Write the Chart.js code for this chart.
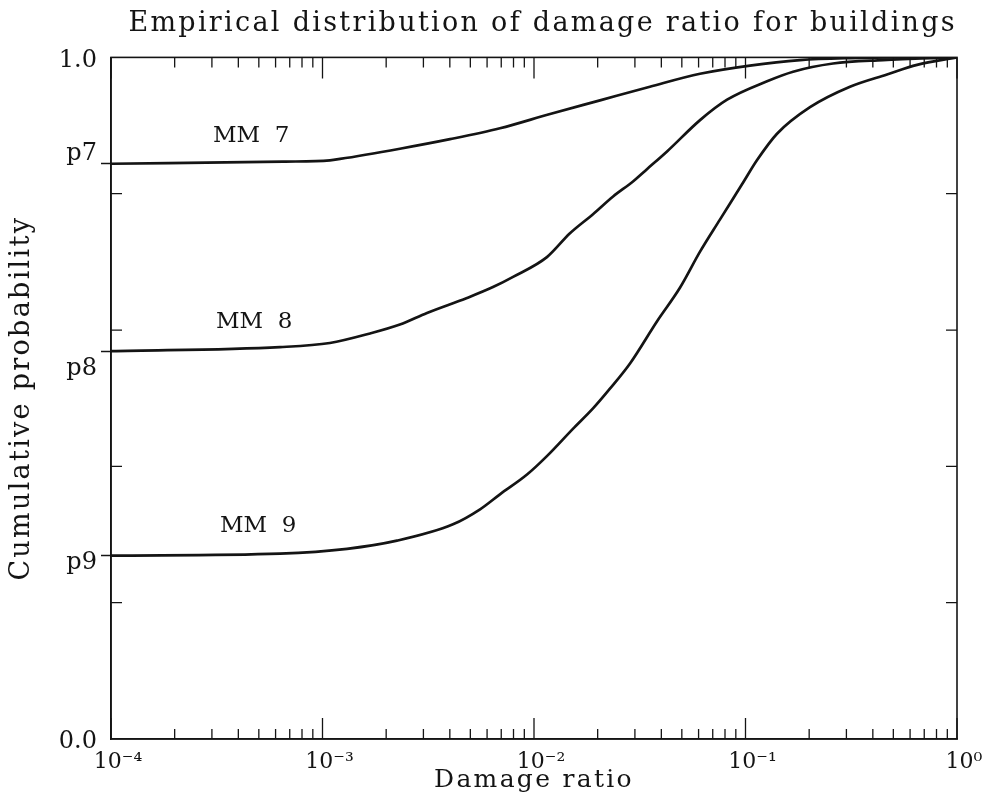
<!DOCTYPE html>
<html>
<head>
<meta charset="utf-8">
<title>Empirical distribution of damage ratio for buildings</title>
<script src="https://cdn.jsdelivr.net/npm/chart.js@4.4.1/dist/chart.umd.min.js"></script>
<style>
  html, body { margin: 0; padding: 0; background: #fff; }
</style>
</head>
<body>
<canvas id="grafico-dano" width="982" height="801"></canvas>
<script>
'use strict';

// Curvas: log10(ratio de daño) y probabilidad acumulada
const mm7LogX = [-4, -3.187, -2.965, -2.917, -2.634, -2.397, -2.161, -1.924, -1.688, -1.452, -1.215, -0.979, -0.742, -0.506, -0.270, 0];
const mm7Prob = [0.844, 0.847, 0.849, 0.851, 0.866, 0.880, 0.896, 0.917, 0.937, 0.957, 0.976, 0.988, 0.996, 0.999, 1.0, 1.0];

const mm8LogX = [-4, -3.201, -2.965, -2.775, -2.634, -2.506, -2.317, -2.194, -2.099, -1.939, -1.830, -1.721, -1.626, -1.532, -1.466, -1.371, -1.215, -1.087, -0.898, -0.775, -0.586, -0.350, -0.113, 0];
const mm8Prob = [0.569, 0.575, 0.581, 0.595, 0.608, 0.625, 0.647, 0.663, 0.678, 0.707, 0.742, 0.770, 0.796, 0.818, 0.836, 0.862, 0.908, 0.938, 0.965, 0.979, 0.991, 0.996, 0.999, 1.0];

const mm9LogX = [-4, -3.201, -2.884, -2.648, -2.383, -2.255, -2.161, -2.033, -1.939, -1.816, -1.721, -1.641, -1.546, -1.418, -1.310, -1.215, -1.121, -1.012, -0.946, -0.851, -0.695, -0.506, -0.331, -0.189, 0];
const mm9Prob = [0.269, 0.272, 0.279, 0.291, 0.315, 0.337, 0.359, 0.388, 0.415, 0.455, 0.485, 0.514, 0.551, 0.613, 0.662, 0.715, 0.762, 0.816, 0.849, 0.888, 0.927, 0.957, 0.975, 0.989, 1.0];

// Etiquetas del eje Y (p7, p8, p9 son los valores iniciales de cada curva)
const yTickValues = [0, 0.269, 0.569, 0.844, 1];
const yTickLabels = ['0.0', 'p9', 'p8', 'p7', '1.0'];
const yMinorTicks = [0.2, 0.4, 0.6, 0.8];

// Eje X: décadas y sus etiquetas
const xDecades = [-4, -3, -2, -1, 0];
const xDecadeLabels = ['10⁻⁴', '10⁻³', '10⁻²', '10⁻¹', '10⁰'];

// Rótulos de las curvas (coordenadas en datos)
const curveNames = ['MM  7', 'MM  8', 'MM  9'];
const curveNameLogX = [-3.518, -3.504, -3.485];
const curveNameProb = [0.885, 0.612, 0.312];

const FONT = "'DejaVu Serif', serif";
const INK = '#141414';

function armarSerie(logX, prob) {
    return logX.map((lx, i) => ({ x: Math.pow(10, lx), y: prob[i] }));
}

/**
 * Los títulos del original van espaciados; las etiquetas de marcas no.
 * Los títulos se dibujan antes de los datos y las etiquetas (ticks.z = 1) después.
 */
const espaciadoPlugin = {
    id: 'espaciado',
    beforeDraw(chart) {
        chart.ctx.letterSpacing = '2.3px';
    },
    afterDatasetsDraw(chart) {
        chart.ctx.letterSpacing = '0px';
    }
};

/**
 * Dibuja el marco completo, las marcas hacia dentro y los rótulos MM.
 */
const marcoPlugin = {
    id: 'marco',
    afterDatasetsDraw(chart) {
        const { ctx, chartArea: a, scales: { x, y } } = chart;
        ctx.save();
        ctx.letterSpacing = '0px';
        ctx.strokeStyle = INK;
        ctx.lineWidth = 1.6;
        ctx.strokeRect(a.left, a.top, a.right - a.left, a.bottom - a.top);

        ctx.lineWidth = 1.3;
        ctx.beginPath();
        xDecades.forEach(d => {
            for (let m = 1; m <= 9; m++) {
                if (d === 0 && m > 1) break;
                const px = x.getPixelForValue(m * Math.pow(10, d));
                const largo = m === 1 ? 21 : 10;
                ctx.moveTo(px, a.bottom);
                ctx.lineTo(px, a.bottom - largo);
                ctx.moveTo(px, a.top);
                ctx.lineTo(px, a.top + largo);
            }
        });
        yMinorTicks.forEach(v => {
            const py = y.getPixelForValue(v);
            ctx.moveTo(a.left, py);
            ctx.lineTo(a.left + 11, py);
            ctx.moveTo(a.right, py);
            ctx.lineTo(a.right - 11, py);
        });
        ctx.stroke();

        ctx.fillStyle = INK;
        ctx.font = `23px ${FONT}`;
        ctx.textAlign = 'left';
        ctx.textBaseline = 'middle';
        curveNames.forEach((t, i) => {
            ctx.fillText(t, x.getPixelForValue(Math.pow(10, curveNameLogX[i])), y.getPixelForValue(curveNameProb[i]));
        });
        ctx.restore();
    }
};

// desplazamiento vertical de cada etiqueta del eje Y (vía altura de línea)
function etiquetaY(valor) {
    const t = yTickLabels[yTickValues.indexOf(valor)];
    if (t === 'p7') return [t, ''];
    return ['', t];
}

function fuenteY(context) {
    const t = yTickLabels[yTickValues.indexOf(context.tick ? context.tick.value : -1)];
    let lh = '6px';
    if (t === 'p7') lh = '20px';
    if (t === 'p8') lh = '36px';
    if (t === 'p9') lh = '14px';
    return { family: FONT, size: 24, lineHeight: lh };
}

const ctx = document.getElementById('grafico-dano').getContext('2d');

new Chart(ctx, {
    type: 'line',
    data: {
        datasets: [
            { label: 'MM 7', data: armarSerie(mm7LogX, mm7Prob) },
            { label: 'MM 8', data: armarSerie(mm8LogX, mm8Prob) },
            { label: 'MM 9', data: armarSerie(mm9LogX, mm9Prob) }
        ].map(ds => Object.assign(ds, {
            borderColor: INK,
            borderWidth: 2.7,
            pointRadius: 0,
            fill: false,
            cubicInterpolationMode: 'monotone'
        }))
    },
    options: {
        responsive: false,
        animation: false,
        devicePixelRatio: 1,
        layout: { padding: { left: 0, right: 25, top: 0, bottom: 0 } },
        plugins: {
            legend: { display: false },
            tooltip: { enabled: false },
            title: {
                display: true,
                text: 'Empirical distribution of damage ratio for buildings',
                align: 'end',
                color: INK,
                font: { family: FONT, size: 27, weight: 'normal', lineHeight: 1.2 },
                padding: { top: 8, bottom: 17 }
            }
        },
        scales: {
            x: {
                type: 'logarithmic',
                min: 1e-4,
                max: 1,
                afterBuildTicks: scale => {
                    scale.ticks = xDecades.map(d => ({ value: Math.pow(10, d), major: true }));
                },
                afterFit: scale => {
                    scale.height = 62;
                    scale.paddingLeft = 0;
                    scale.paddingRight = 0;
                },
                ticks: {
                    z: 1,
                    autoSkip: false,
                    maxRotation: 0,
                    color: INK,
                    padding: 10,
                    labelOffset: 7,
                    font: { family: FONT, size: 22 },
                    callback: (value, index) => xDecadeLabels[index]
                },
                grid: { drawOnChartArea: false, drawTicks: false },
                border: { display: true, color: INK, width: 1.6 },
                title: {
                    display: true,
                    text: 'Damage ratio',
                    color: INK,
                    font: { family: FONT, size: 25 },
                    padding: { top: 0, bottom: 6 }
                }
            },
            y: {
                type: 'linear',
                min: 0,
                max: 1,
                afterBuildTicks: scale => {
                    scale.ticks = yTickValues.map(v => ({ value: v }));
                },
                afterFit: scale => {
                    scale.width = 111;
                    scale.paddingTop = 0;
                    scale.paddingBottom = 0;
                },
                ticks: {
                    z: 1,
                    autoSkip: false,
                    color: INK,
                    padding: 4,
                    font: fuenteY,
                    callback: value => etiquetaY(value)
                },
                grid: {
                    drawOnChartArea: false,
                    drawTicks: true,
                    tickLength: 10,
                    tickWidth: 1.5,
                    tickColor: c => (c.tick && (c.tick.value === 0 || c.tick.value === 1)) ? 'rgba(0,0,0,0)' : INK
                },
                border: { display: true, color: INK, width: 1.6 },
                title: {
                    display: true,
                    text: 'Cumulative probability',
                    color: INK,
                    font: { family: FONT, size: 27 },
                    padding: { top: 6, bottom: 0 }
                }
            }
        }
    },
    plugins: [espaciadoPlugin, marcoPlugin]
});
</script>
</body>
</html>
